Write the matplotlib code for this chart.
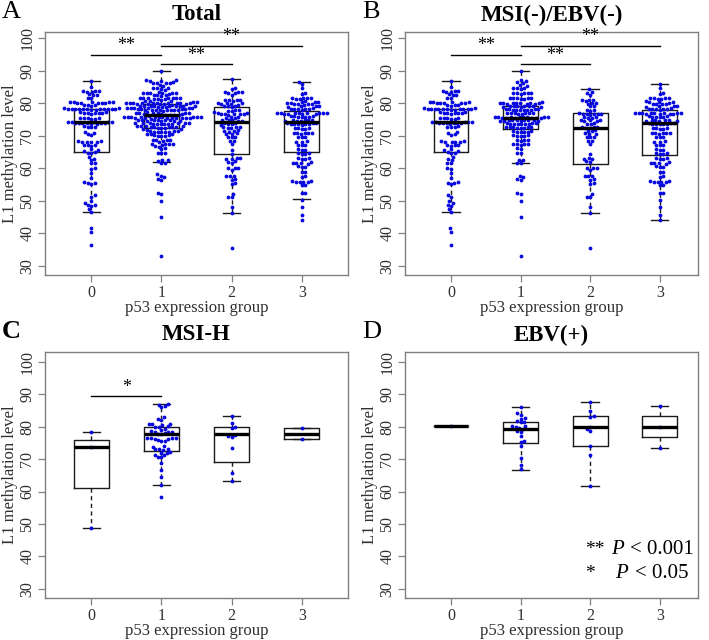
import numpy as np
import matplotlib
matplotlib.use('Agg')
import matplotlib.pyplot as plt

plt.rcParams['font.family'] = ['Liberation Serif', 'DejaVu Serif']

groups = [0, 1, 2, 3]
group_labels = ['0', '1', '2', '3']

# MSI(-)/EBV(-) subgroup, one list per p53 group
msin_0 = [86.7, 85.0,
          83.9, 83.7, 83.6, 83.5, 83.8, 82.7, 82.5, 82.6, 81.7, 81.5,
          80.4, 80.2, 80.1, 80.3, 80.0, 80.2, 80.4, 80.1, 80.3,
          79.5, 79.4, 79.6, 79.3,
          78.2, 78.3, 78.1, 78.2, 78.0, 78.4, 78.2, 78.1, 78.3, 78.2, 78.0, 78.4, 78.1, 78.2,
          77.2, 77.0, 77.1, 76.9, 77.3, 77.0, 76.8, 77.1,
          75.5, 75.3, 75.4, 75.6, 75.2, 75.4,
          74.3, 74.1, 74.0, 73.9, 74.2, 73.8, 74.1, 74.0, 73.9, 74.2, 73.7, 74.0,
          72.8, 72.7, 72.9, 72.6, 71.3, 71.0, 70.5, 70.3,
          68.3, 68.2, 68.0, 68.1, 68.4, 68.2, 67.3, 67.1, 67.0, 67.2,
          65.8, 65.6, 65.3, 65.0, 64.8, 64.6, 63.6, 63.0, 62.6, 61.7, 61.5,
          60.1, 59.9, 58.5, 57.0, 55.8, 55.6, 55.5, 55.1, 51.8, 51.3,
          49.8, 49.3, 48.8, 48.3, 47.4, 46.5, 41.5, 40.4, 36.5]
msin_1 = [89.8, 87.1, 86.9, 86.4, 86.2, 85.6, 85.4,
          84.7, 84.6, 84.5, 84.8, 83.2, 83.0, 83.1, 83.3, 82.9, 83.1,
          81.6, 81.4, 81.5, 81.7, 81.3, 81.5, 81.6,
          80.1, 80.0, 79.9, 80.2, 80.0, 79.8, 80.1, 80.3, 79.9, 80.0, 80.2,
          79.1, 79.0, 78.9, 79.2, 79.0, 78.8, 79.1, 79.0, 78.9,
          78.0, 78.1, 77.9, 78.0, 78.2, 77.8, 78.1, 77.9, 78.0, 78.1,
          77.0, 76.9, 76.8, 77.1, 76.9, 77.0, 76.7, 76.9,
          75.7, 75.6, 75.8, 75.5, 75.7, 75.9, 75.6, 75.4, 75.8, 75.7, 75.5, 75.6, 75.9, 75.7,
          74.7, 74.6, 74.8, 74.7, 74.5, 74.9, 74.6, 74.7, 74.8, 74.6,
          73.7, 73.6, 73.8, 73.5, 73.7, 73.9, 73.6, 73.7, 73.8,
          72.6, 72.5, 72.7, 72.4, 72.6, 72.8, 72.5, 72.6,
          71.3, 71.2, 71.4, 71.1, 71.3, 71.5, 70.0, 69.9, 70.1, 70.2, 69.8,
          68.7, 68.6, 68.8, 68.5, 67.5, 67.4, 67.6, 67.3, 67.5,
          66.2, 66.0, 64.8, 64.6, 62.6, 62.4, 61.7, 61.5,
          57.7, 57.3, 56.8, 56.5, 52.5, 52.0, 50.0, 45.0, 33.1]
msin_2 = [84.4, 83.6, 83.0, 82.6, 81.0, 80.9, 81.1, 80.8, 80.0, 80.1, 79.9, 79.0, 79.1,
          77.8, 77.9, 77.7, 76.7, 76.8, 76.6, 76.9, 76.7, 76.5, 76.8,
          75.7, 75.6, 75.8, 75.5, 74.7, 74.8, 74.6, 74.5, 74.9, 73.7, 73.8, 73.6,
          72.6, 72.5, 72.7, 72.4, 72.6, 71.6, 71.5, 71.7, 70.6, 70.5, 70.7,
          69.6, 69.5, 69.7, 68.5, 68.4, 67.5, 64.4, 63.1, 63.0, 62.9, 62.1, 62.0,
          60.2, 60.1, 60.0, 59.5, 57.7, 57.6, 57.5, 56.7, 56.5, 55.4, 55.2,
          52.1, 51.3, 51.1, 48.2, 46.4, 35.6]
msin_3 = [85.8, 84.6, 83.2, 82.9, 81.6, 81.5, 81.4, 81.7, 81.5, 81.3,
          80.5, 80.4, 80.6, 80.5, 79.8, 79.9, 79.7, 79.8, 80.0, 79.0, 79.1, 78.9, 79.0,
          78.2, 78.3, 78.1, 78.2, 78.4, 78.0, 78.2,
          76.9, 77.0, 76.8, 76.9, 77.1, 76.7, 76.9, 77.0, 76.8, 76.9, 77.0, 76.8,
          75.9, 75.8, 76.0, 75.9, 75.7, 76.1, 74.7, 74.6, 74.8, 74.7, 74.5, 74.9, 74.6,
          73.7, 73.8, 73.6, 73.7, 73.9, 73.5, 73.8, 73.7, 72.3, 72.2, 72.4, 72.1, 72.5,
          70.8, 70.7, 70.9, 70.6, 71.0, 70.8, 69.6, 69.5, 69.7, 68.2, 68.1, 68.3,
          67.2, 67.1, 67.3, 65.7, 65.6, 65.8, 64.6, 64.5, 64.7, 64.4,
          63.1, 63.0, 63.2, 62.9, 61.6, 61.5, 61.7, 61.4, 61.8, 60.5, 60.4, 60.6,
          59.0, 58.9, 57.5, 57.4, 55.9, 55.8, 56.0, 55.7, 56.1, 55.9, 54.9, 54.8,
          52.4, 52.3, 50.3, 48.2, 45.7, 44.1]

# MSI-H subgroup
msih_0 = [78.3, 73.6, 48.8]
msih_1 = [87.0, 86.8, 86.3, 86.1, 83.1, 82.4, 82.2, 80.9, 80.8, 80.6, 80.7,
          80.0, 80.1, 79.9, 79.3, 79.1, 78.5, 78.4, 78.6, 78.5, 77.8, 77.9, 77.7,
          76.4, 76.3, 76.5, 76.4, 76.2, 76.6, 75.7, 75.6, 75.8, 73.9, 73.8,
          73.0, 73.1, 72.9, 73.0, 72.0, 72.1, 71.9, 71.3, 71.4, 70.6, 70.5,
          68.7, 66.7, 64.6, 62.1, 58.2]
msih_2 = [83.4, 81.0, 79.9, 79.6, 77.5, 77.2, 76.9, 73.3, 65.7, 63.1]
msih_3 = [79.5, 76.1]

# EBV(+) subgroup
ebv_0 = [80.3]
ebv_1 = [86.2, 84.1, 83.6, 82.6, 82.4, 81.7, 81.5, 81.3, 80.3, 80.1, 79.9,
         79.6, 79.3, 78.6, 78.4, 77.2, 75.5, 75.2, 73.9, 70.4, 68.2, 66.8]
ebv_2 = [87.5, 84.8, 83.4, 83.0, 80.0, 79.3, 78.8, 74.0, 71.2, 61.7]
ebv_3 = [86.5, 80.0, 73.4]

msin = [msin_0, msin_1, msin_2, msin_3]
msih = [msih_0, msih_1, msih_2, msih_3]
ebv = [ebv_0, ebv_1, ebv_2, ebv_3]
# total = all three subgroups together
total = [a + b + c for a, b, c in zip(msin, msih, ebv)]

# box statistics (q1, median, q3, whisker low, whisker high)
total_q1 = [65.0, 72.4, 64.3, 65.0]
total_med = [74.1, 76.4, 74.1, 74.3]
total_q3 = [78.2, 79.8, 78.7, 77.5]
total_lo = [46.5, 61.9, 46.4, 50.5]
total_hi = [86.7, 89.8, 87.4, 86.6]

msin_q1 = [65.0, 72.0, 61.3, 64.2]
msin_med = [74.1, 75.5, 72.5, 73.9]
msin_q3 = [78.2, 79.0, 76.9, 77.8]
msin_lo = [46.5, 61.6, 46.4, 44.1]
msin_hi = [86.7, 89.8, 84.4, 85.8]

msih_q1 = [61.1, 72.6, 69.2, 76.1]
msih_med = [73.6, 77.8, 77.8, 77.8]
msih_q3 = [75.9, 80.0, 80.0, 79.5]
msih_lo = [48.8, 62.1, 63.1, 76.1]
msih_hi = [78.3, 87.0, 83.4, 79.5]

ebv_q1 = [80.3, 75.1, 73.9, 76.7]
ebv_med = [80.3, 79.2, 79.8, 80.0]
ebv_q3 = [80.3, 81.4, 83.4, 83.3]
ebv_lo = [80.3, 66.7, 61.7, 73.4]
ebv_hi = [80.3, 86.2, 87.5, 86.5]

# significance brackets: (from, to, height, label)
total_sig = [(0, 1, 94.9, '**'), (1, 3, 97.7, '**'), (1, 2, 92.0, '**')]
msin_sig = [(0, 1, 94.9, '**'), (1, 3, 97.7, '**'), (1, 2, 92.0, '**')]
msih_sig = [(0, 1, 89.4, '*')]
ebv_sig = []

W, H = 709, 640
fig = plt.figure(figsize=(W / 100, H / 100), dpi=100)

AX_COLOR = '#808080'
TXT_COLOR = '#303030'
PT_COLOR = '#0808e0'
SPACING = 3.65  # px between dot centres


def swarm(px_y, d):
  # beeswarm "swarm": place each point at the nearest free spot to the centre
  n = len(px_y)
  xs = np.zeros(n)
  order = np.argsort(px_y, kind='stable')
  placed = []
  for i in order:
    y = px_y[i]
    near = [(px, py) for px, py in placed if abs(py - y) < d]
    cands = [0.0]
    for px, py in near:
      dx = np.sqrt(d * d - (py - y) ** 2)
      cands += [px + dx, px - dx]
    cands.sort(key=lambda c: (round(abs(c), 6), c < 0 if len(placed) % 2 else c > 0))
    best = 0.0
    for c in cands:
      if all((c - px) ** 2 + (y - py) ** 2 >= d * d - 1e-6 for px, py in near):
        best = c
        break
    xs[i] = best
    placed.append((best, y))
  return xs


def panel(rect, xlim, ylim, data, q1, med, q3, lo, hi, sig, title, letter, letter_bold):
  l, t, r, b = rect
  ax = fig.add_axes([l / W, 1 - b / H, (r - l) / W, (b - t) / H])
  ax.set_xlim(*xlim)
  ax.set_ylim(*ylim)
  w_px, h_px = r - l, b - t

  stats = []
  for i in range(4):
    stats.append({'med': med[i], 'q1': q1[i], 'q3': q3[i],
                  'whislo': lo[i], 'whishi': hi[i], 'fliers': []})
  ax.bxp(stats, positions=groups, widths=0.5, showfliers=False,
         boxprops=dict(color='#1a1a1a', linewidth=1.0),
         whiskerprops=dict(color='#1a1a1a', linewidth=1.0, linestyle=(0, (3, 2.5))),
         capprops=dict(color='#1a1a1a', linewidth=1.0),
         medianprops=dict(color='black', linewidth=2.4, solid_capstyle='butt', zorder=4),
         zorder=1)

  # beeswarm points laid out in pixel space
  for g, vals in zip(groups, data):
    vals = np.asarray(vals, dtype=float)
    pix = ax.transData.transform(np.column_stack([np.full(len(vals), g), vals]))
    offs = swarm(pix[:, 1], SPACING)
    pix[:, 0] += offs
    pts = ax.transData.inverted().transform(pix)
    ax.scatter(pts[:, 0], vals, s=7.5, color=PT_COLOR, linewidths=0, zorder=3)

  for g0, g1, yv, lab in sig:
    ax.plot([g0, g1], [yv, yv], color='black', linewidth=1.0, zorder=5)
    ax.text((g0 + g1) / 2, yv + 0.1, lab, ha='center', va='bottom', fontsize=13, zorder=5)

  ax.set_xticks(groups)
  ax.set_xticklabels(group_labels)
  ax.set_yticks(range(30, 101, 10))
  for lab in ax.get_yticklabels():
    lab.set_rotation(90)
    lab.set_va('center')
  ax.tick_params(axis='both', colors=AX_COLOR, labelcolor=TXT_COLOR, labelsize=11.5,
                 length=5, width=0.9, pad=2)
  for s in ax.spines.values():
    s.set_color(AX_COLOR)
    s.set_linewidth(1.0)

  ax.text(-35 / w_px, 0.5, 'L1 methylation level', rotation=90, ha='center', va='center',
          fontsize=12, color=TXT_COLOR, transform=ax.transAxes)
  ax.text(0.5, -33 / h_px, 'p53 expression group', ha='center', va='center',
          fontsize=12, color=TXT_COLOR, transform=ax.transAxes)
  ax.text(0.5, 1 + 17 / h_px, title, ha='center', va='center', fontsize=16.5,
          fontweight='bold', transform=ax.transAxes)
  fig.text((l - 43) / W, 1 - (t - 20) / H, letter, ha='left', va='center', fontsize=19,
           fontweight='bold' if letter_bold else 'normal')
  return ax


panel((45, 32, 348, 275), (-0.66, 3.66), (27.2, 101.9), total,
      total_q1, total_med, total_q3, total_lo, total_hi, total_sig, 'Total', 'A', False)
panel((405, 32, 698, 275), (-0.66, 3.55), (27.2, 101.9), msin,
      msin_q1, msin_med, msin_q3, msin_lo, msin_hi, msin_sig, 'MSI(-)/EBV(-)', 'B', False)
panel((45, 352, 348, 598), (-0.66, 3.66), (27.2, 103.0), msih,
      msih_q1, msih_med, msih_q3, msih_lo, msih_hi, msih_sig, 'MSI-H', 'C', True)
axd = panel((405, 352, 698, 598), (-0.66, 3.55), (27.2, 103.0), ebv,
            ebv_q1, ebv_med, ebv_q3, ebv_lo, ebv_hi, ebv_sig, 'EBV(+)', 'D', False)

# p-value key
for yv, stars, rel in [(42.1, '**', '< 0.001'), (34.9, '*', '< 0.05')]:
  axd.text(1.93, yv, stars, ha='left', va='center', fontsize=14)
  axd.text(2.30 if stars == '**' else 2.36, yv, 'P', ha='left', va='center', fontsize=15,
           style='italic')
  axd.text(2.58 if stars == '**' else 2.64, yv, rel, ha='left', va='center', fontsize=15)

plt.savefig('out.png', dpi=100)
